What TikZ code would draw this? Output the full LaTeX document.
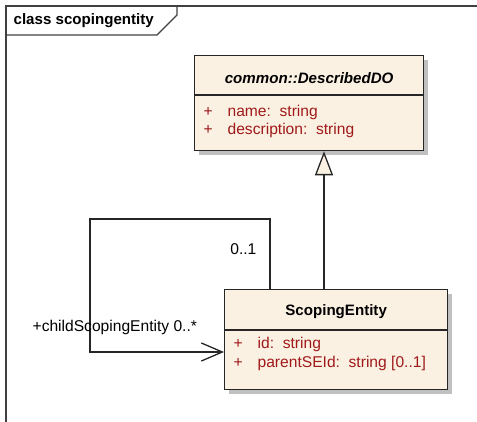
\documentclass[tikz,border=0pt]{standalone}
\usepackage{fontspec}
\setmainfont{Liberation Sans}
\usetikzlibrary{arrows.meta,shadows}

\definecolor{umlfondo}{RGB}{251,241,227}
\definecolor{umlattr}{RGB}{160,25,25}
\definecolor{umlsombra}{RGB}{192,192,192}
\newcommand{\letra}{\fontsize{15.6}{18}\selectfont}
\newcommand{\letranegra}{\fontsize{15.1}{18}\selectfont\bfseries}

\begin{document}
\begin{tikzpicture}[x=1pt, y=-1pt, line width=1.3pt,
    every node/.style={font=\letra, inner sep=0pt},
    clase/.style={draw=black!85, fill=umlfondo, anchor=north west,
        general shadow={fill=umlsombra, shadow xshift=4pt, shadow yshift=-4pt}},
    titulo/.style={font=\letranegra},
    attr/.style={anchor=west, text=umlattr},
    marco/.style={draw=black!75},
    generaliza/.style={draw=black!85, -{Triangle[length=24pt, width=18pt, fill=umlfondo]}},
    asocia/.style={draw=black!85, -{Straight Barb[length=21pt, width=18pt]}}]
    \useasboundingbox (0,0) rectangle (477,422);

    % Marco del diagrama
    \draw[marco] (6,422) -- (6,6) -- (477,6);
    \draw[marco] (6,35) -- (157,35) -- (177,15) -- (177,6);
    \node[titulo, anchor=west] (marcolabel) at (13,21) {class scopingentity};

    % Clase abstracta (arriba)
    \node[clase, minimum width=229pt, minimum height=95pt] (described) at (194,55) {};
    \draw[draw=black!85] ([yshift=-40pt]described.north west) -- ([yshift=-40pt]described.north east);
    \node[titulo, font=\letranegra\itshape] (describedname) at ([yshift=-23pt]described.north) {common::DescribedDO};
    \foreach \i/\txt in {1/{name:\ \ string}, 2/{description:\ \ string}} {
        \node[attr] (describedplus\i) at ([xshift=9pt, yshift=-57pt-(\i-1)*18pt]described.north west) {+};
        \node[attr] (describedattr\i) at ([xshift=33pt, yshift=-57pt-(\i-1)*18pt]described.north west) {\txt};
    }

    % Clase ScopingEntity (abajo)
    \node[clase, minimum width=223pt, minimum height=100pt] (scoping) at (224,289) {};
    \draw[draw=black!85] ([yshift=-41pt]scoping.north west) -- ([yshift=-41pt]scoping.north east);
    \node[titulo] (scopingname) at ([yshift=-23pt]scoping.north) {ScopingEntity};
    \foreach \i/\txt in {1/{id:\ \ string}, 2/{parentSEId:\ \ string [0..1]}} {
        \node[attr] (scopingplus\i) at ([xshift=9pt, yshift=-55pt-(\i-1)*19pt]scoping.north west) {+};
        \node[attr] (scopingattr\i) at ([xshift=33pt, yshift=-55pt-(\i-1)*19pt]scoping.north west) {\txt};
    }

    % Herencia
    \draw[generaliza] ([xshift=100pt]scoping.north west) -- ([xshift=100pt]scoping.north west |- described.south);

    % Asociacion reflexiva
    \coordinate (bucle) at (90,219);
    \draw[asocia] ([xshift=46pt]scoping.north west) |- (bucle) |- ([yshift=-63pt]scoping.north west);
    \node[anchor=east] (multpadre) at (257,249) {0..1};
    \node[anchor=west] (rolhijo) at (32,327) {+childScopingEntity 0..*};
\end{tikzpicture}
\end{document}
